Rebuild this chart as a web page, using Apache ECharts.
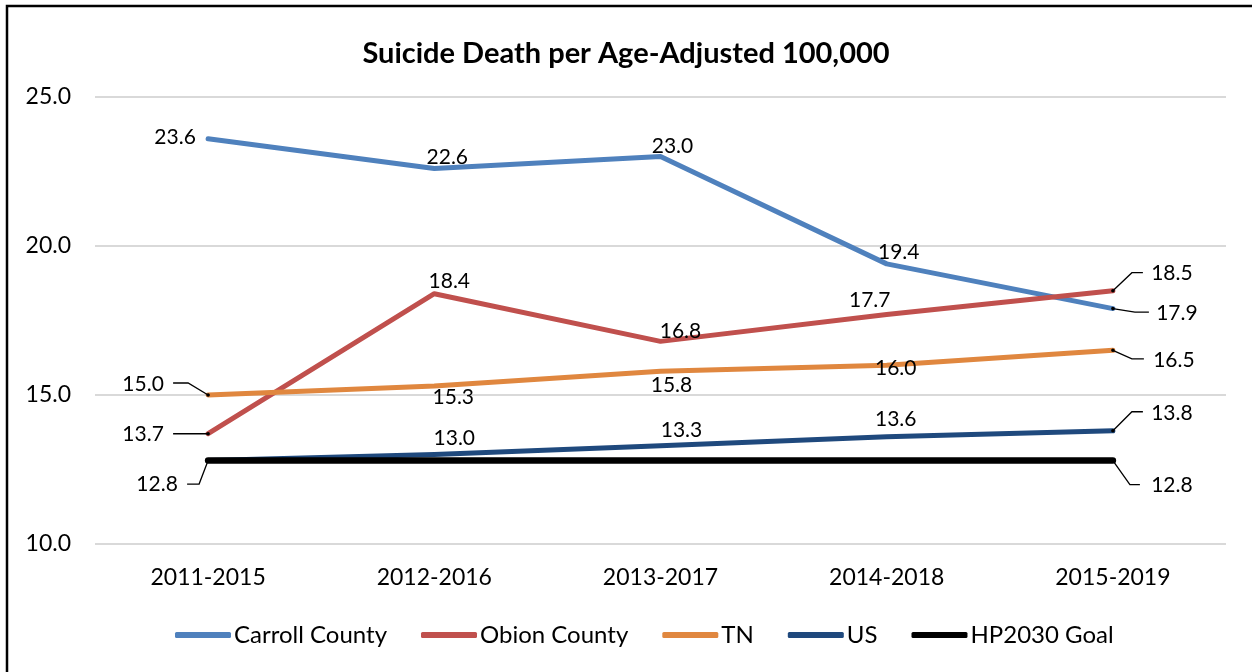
<!DOCTYPE html>
<html>
<head>
<meta charset="utf-8">
<script src="https://cdn.jsdelivr.net/npm/echarts@6/dist/echarts.min.js"></script>
<style>
html,body{margin:0;padding:0;background:#fff;overflow:hidden;}
#chart{width:1252px;height:672px;}
</style>
</head>
<body>
<div id="chart"></div>
<script>
var categories = ['2011-2015','2012-2016','2013-2017','2014-2018','2015-2019'];
var carrollCounty = [23.6, 22.6, 23.0, 19.4, 17.9];
var obionCounty = [13.7, 18.4, 16.8, 17.7, 18.5];
var tnValues = [15.0, 15.3, 15.8, 16.0, 16.5];
var usValues = [12.8, 13.0, 13.3, 13.6, 13.8];
var hp2030Goal = [12.8, 12.8, 12.8, 12.8, 12.8];
var yTicks = [10, 15, 20, 25];

var FONT = 'Lato';
var seriesDefs = [
  {name:'Carroll County', data:carrollCounty, color:'#4F81BD', width:5},
  {name:'Obion County', data:obionCounty, color:'#C0504D', width:5},
  {name:'TN', data:tnValues, color:'#E0873F', width:5},
  {name:'US', data:usValues, color:'#1F497D', width:5},
  {name:'HP2030 Goal', data:hp2030Goal, color:'#000000', width:6.5}
];
// label center offsets relative to the point (null = no label)
var labelOffsets = [
  [[-33,-1],[13,-11],[12,-10],[12,-12],[64,5]],
  [[-65,0],[15,-12],[20,-10],[-17,-14],[59,-17]],
  [[-65,-11],[19,11],[11,14],[9,3],[61,10]],
  [null,[20,-16],[21,-15],[9,-17],[59,-18]],
  [[-51,24],null,null,null,[59,25]]
];
// leader line paths relative to the point
var leaders = [
  {s:2,i:0,p:[[0,0],[-20,-12],[-35,-12]]},
  {s:1,i:0,p:[[0,0],[-35,0]]},
  {s:4,i:0,p:[[0,0],[-9,23.5],[-21,23.5]]},
  {s:1,i:4,p:[[0,0],[19,-18],[30,-18]]},
  {s:0,i:4,p:[[0,0],[22,3.5],[36,3.5]]},
  {s:2,i:4,p:[[0,0],[19,8.5],[31,8.5]]},
  {s:3,i:4,p:[[0,0],[19,-19],[30,-19]]},
  {s:4,i:4,p:[[0,0],[17,24],[27,24]]}
];

var chart = echarts.init(document.getElementById('chart'), null, {renderer:'canvas'});
var SYM = 2;
var series = seriesDefs.map(function(d, si){
  return {
    name: d.name,
    type: 'line',
    data: d.data.map(function(v, i){
      var off = labelOffsets[si][i];
      return {
        value: v,
        label: off ? {show:true, position:[off[0]+SYM/2, off[1]+SYM/2], align:'center', verticalAlign:'middle'} : {show:false}
      };
    }),
    symbol: 'circle',
    symbolSize: SYM,
    showSymbol: true,
    itemStyle: {color: d.color},
    lineStyle: {color: d.color, width: d.width, cap:'round', join:'round'},
    label: {
      fontFamily: FONT, fontSize: 21, color: '#000',
      formatter: function(p){ return p.value.toFixed(1); }
    },
    emphasis: {disabled:true},
    z: 2 + si
  };
});

chart.setOption({
  animation: false,
  backgroundColor: '#fff',
  title: {
    text: 'Suicide Death per Age-Adjusted 100,000',
    left: 'center', top: 34,
    textStyle: {fontFamily: FONT, fontWeight:'bold', fontSize: 29, color:'#000'}
  },
  legend: {
    bottom: 20, left: 170,
    icon: 'roundRect', itemWidth: 56, itemHeight: 6, itemGap: 34,
    textStyle: {fontFamily: FONT, fontSize: 24, color:'#000', padding:[0,0,0,-2]},
    data: seriesDefs.map(function(d){ return d.name; })
  },
  grid: {left: 95, right: 26, top: 97, bottom: 128, containLabel:false},
  xAxis: {
    type: 'category', data: categories, boundaryGap: true,
    axisLine: {show:false}, axisTick: {show:false},
    axisLabel: {fontFamily: FONT, fontSize: 23, color:'#000', margin: 22},
    splitLine: {show:false}
  },
  yAxis: {
    type: 'value', min: yTicks[0], max: yTicks[yTicks.length-1], interval: 5,
    axisLine: {show:false}, axisTick: {show:false},
    axisLabel: {fontFamily: FONT, fontSize: 23, color:'#000', margin: 24,
      formatter: function(v){ return v.toFixed(1); }},
    splitLine: {lineStyle: {color:'#D9D9D9', width: 2}}
  },
  series: series
});

var graphics = [{
  type:'polyline', silent:true, z:100,
  shape:{points:[[7,700],[7,6],[1300,6]]},
  style:{stroke:'#000', lineWidth:2.5, fill:null}
}];
leaders.forEach(function(L){
  var v = seriesDefs[L.s].data[L.i];
  var pt = chart.convertToPixel({seriesIndex: L.s}, [L.i, v]);
  var pts = L.p.map(function(q){ return [pt[0]+q[0], pt[1]+q[1]]; });
  graphics.push({type:'polyline', silent:true, z:50,
    shape:{points:pts}, style:{stroke:'#000', lineWidth:1.3, fill:null}});
  graphics.push({type:'circle', silent:true, z:50,
    shape:{cx:pt[0], cy:pt[1], r:1.8}, style:{fill:'#000'}});
});
chart.setOption({graphic: graphics});
</script>
</body>
</html>
